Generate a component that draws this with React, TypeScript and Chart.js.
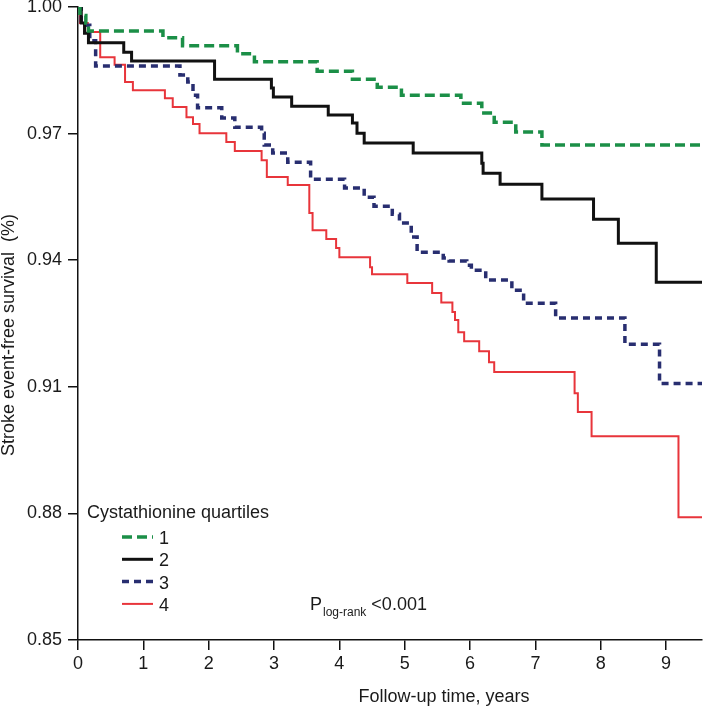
import React, { useEffect, useRef } from "react";
import { Chart, registerables } from "chart.js";

Chart.register(...registerables);

// ---- data (Kaplan-Meier step points: time in years, survival) ----
const Q1_T = [0, 0.03, 0.12, 0.16, 1.30, 1.60, 2.44, 2.70, 3.66, 4.20, 4.58, 4.95, 5.86, 6.18, 6.37, 6.70, 7.10, 9.55];
const Q1_S = [1.000, 0.9980, 0.9962, 0.9943, 0.9927, 0.9908, 0.9889, 0.9870, 0.9848, 0.9829, 0.9810, 0.9791, 0.9772, 0.9749, 0.9727, 0.9704, 0.9673, 0.9673];

const Q2_T = [0, 0.05, 0.10, 0.16, 0.70, 0.82, 2.09, 2.96, 2.99, 3.27, 3.83, 4.20, 4.27, 4.38, 5.13, 6.18, 6.20, 6.46, 7.10, 7.89, 8.27, 8.85, 9.55];
const Q2_S = [1.000, 0.9962, 0.9938, 0.9915, 0.9893, 0.9872, 0.9829, 0.9808, 0.9787, 0.9765, 0.9744, 0.9725, 0.9701, 0.9678, 0.9654, 0.9630, 0.9606, 0.9580, 0.9545, 0.9497, 0.9440, 0.9348, 0.9348];

const Q3_T = [0, 0.05, 0.18, 0.27, 1.56, 1.68, 1.76, 1.83, 2.20, 2.40, 2.81, 2.85, 2.98, 3.21, 3.56, 4.08, 4.38, 4.53, 4.81, 4.92, 5.07, 5.10, 5.19, 5.59, 5.68, 5.95, 6.02, 6.24, 6.64, 6.82, 7.31, 8.37, 8.90, 9.55];
const Q3_S = [1.000, 0.9957, 0.9920, 0.9860, 0.9839, 0.9822, 0.9791, 0.9761, 0.9737, 0.9715, 0.9701, 0.9673, 0.9654, 0.9632, 0.9592, 0.9571, 0.9549, 0.9528, 0.9509, 0.9488, 0.9483, 0.9455, 0.9419, 0.9405, 0.9398, 0.9388, 0.9376, 0.9353, 0.9329, 0.9298, 0.9263, 0.9201, 0.9108, 0.9108];

const Q4_T = [0, 0.03, 0.15, 0.34, 0.56, 0.72, 0.84, 1.33, 1.45, 1.66, 1.76, 1.86, 2.27, 2.40, 2.81, 2.89, 3.21, 3.54, 3.59, 3.80, 3.95, 4.00, 4.47, 4.50, 5.04, 5.42, 5.56, 5.73, 5.77, 5.82, 5.91, 6.14, 6.29, 6.37, 7.60, 7.65, 7.86, 9.19, 9.55];
const Q4_S = [1.000, 0.9962, 0.9941, 0.9881, 0.9863, 0.9822, 0.9803, 0.9784, 0.9763, 0.9739, 0.9723, 0.9701, 0.9680, 0.9659, 0.9637, 0.9597, 0.9578, 0.9512, 0.9471, 0.9450, 0.9429, 0.9407, 0.9383, 0.9367, 0.9346, 0.9322, 0.9300, 0.9277, 0.9258, 0.9229, 0.9208, 0.9184, 0.9158, 0.9135, 0.9085, 0.9040, 0.8983, 0.8791, 0.8791];

const SERIES_LABELS = ["1", "2", "3", "4"];
const X_TICKS = [0, 1, 2, 3, 4, 5, 6, 7, 8, 9];
const Y_TICKS = [0.85, 0.88, 0.91, 0.94, 0.97, 1.0];
const X_MIN = 0;
const X_MAX = 9.55;
const Y_MIN = 0.85;
const Y_MAX = 1.0;

const X_TITLE = "Follow-up time, years";
const Y_TITLE = "Stroke event-free survival  (%)";
const LEGEND_TITLE = "Cystathionine quartiles";
const P_MAIN = "P";
const P_SUB = "log-rank";
const P_VALUE = "<0.001";

const FONT = '"Liberation Sans", Arial, Helvetica, sans-serif';
const TEXT_COLOR = "#1a1a1a";

const STYLES = [
  { color: "#1b8f47", width: 3.5, dash: [10, 5] },
  { color: "#111111", width: 3, dash: [] as number[] },
  { color: "#282e70", width: 3.5, dash: [7, 5] },
  { color: "#e8353b", width: 2, dash: [] as number[] },
];

const SERIES = [
  [Q1_T, Q1_S],
  [Q2_T, Q2_S],
  [Q3_T, Q3_S],
  [Q4_T, Q4_S],
];

const annotPlugin = {
  id: "annot",
  afterDraw(chart: any) {
    const ctx = chart.ctx as CanvasRenderingContext2D;
    const area = chart.chartArea;
    ctx.save();
    ctx.fillStyle = TEXT_COLOR;

    // x axis title
    ctx.font = `18px ${FONT}`;
    ctx.textAlign = "center";
    ctx.textBaseline = "middle";
    ctx.fillText(X_TITLE, area.left + 366, area.bottom + 57);

    // y axis title
    ctx.save();
    ctx.translate(9, area.top + 328);
    ctx.rotate(-Math.PI / 2);
    ctx.fillText(Y_TITLE, 0, 0);
    ctx.restore();

    // legend
    ctx.textAlign = "left";
    ctx.fillText(LEGEND_TITLE, area.left + 9, area.top + 506);
    const ds = chart.data.datasets;
    for (let i = 0; i < ds.length; i++) {
      const yText = area.top + 532 + i * 22.3;
      const yLine = yText - 2;
      ctx.save();
      ctx.strokeStyle = ds[i].borderColor;
      ctx.lineWidth = ds[i].borderWidth;
      ctx.setLineDash(ds[i].borderDash || []);
      ctx.beginPath();
      ctx.moveTo(area.left + 44, yLine);
      ctx.lineTo(area.left + 75, yLine);
      ctx.stroke();
      ctx.restore();
      ctx.fillStyle = TEXT_COLOR;
      ctx.fillText(SERIES_LABELS[i], area.left + 81, yText);
    }

    // p-value annotation
    const px = area.left + 232;
    const py = area.top + 598;
    ctx.font = `18px ${FONT}`;
    ctx.fillText(P_MAIN, px, py);
    const wP = ctx.measureText(P_MAIN).width;
    ctx.font = `12px ${FONT}`;
    ctx.fillText(P_SUB, px + wP + 1, py + 8);
    const wSub = ctx.measureText(P_SUB).width;
    ctx.font = `18px ${FONT}`;
    ctx.fillText(P_VALUE, px + wP + wSub + 6, py);

    ctx.restore();
  },
};

export default function App() {
  const ref = useRef<HTMLCanvasElement | null>(null);

  useEffect(() => {
    if (!ref.current) return;
    const datasets = SERIES.map(([t, s], i) => ({
      label: SERIES_LABELS[i],
      data: t.map((x, j) => ({ x, y: s[j] })),
      borderColor: STYLES[i].color,
      borderWidth: STYLES[i].width,
      borderDash: STYLES[i].dash,
      borderCapStyle: "butt" as const,
      borderJoinStyle: "miter" as const,
      stepped: "before" as const,
      pointRadius: 0,
      fill: false,
    }));

    const tickFont = { family: FONT, size: 18 };

    const chart = new Chart(ref.current, {
      type: "line",
      data: { datasets },
      options: {
        responsive: false,
        animation: false,
        devicePixelRatio: 1,
        layout: { padding: { top: 7, right: 7, left: 0, bottom: 0 } },
        plugins: {
          legend: { display: false },
          tooltip: { enabled: false },
          title: { display: false },
        },
        scales: {
          x: {
            type: "linear",
            min: X_MIN,
            max: X_MAX,
            afterBuildTicks: (scale: any) => {
              scale.ticks = X_TICKS.map((v) => ({ value: v }));
            },
            afterFit: (scale: any) => {
              scale.height = 67;
              scale.paddingLeft = 0;
              scale.paddingRight = 0;
            },
            ticks: {
              font: tickFont,
              color: TEXT_COLOR,
              padding: 3,
              maxRotation: 0,
              autoSkip: false,
              callback: (v: any) => String(v),
            },
            grid: {
              display: true,
              drawOnChartArea: false,
              drawTicks: true,
              tickLength: 10,
              color: "#111",
              lineWidth: 1.5,
            },
            border: { display: true, color: "#111", width: 1.5 },
          },
          y: {
            type: "linear",
            min: Y_MIN,
            max: Y_MAX,
            afterBuildTicks: (scale: any) => {
              scale.ticks = Y_TICKS.map((v) => ({ value: v }));
            },
            afterFit: (scale: any) => {
              scale.width = 78;
              scale.paddingTop = 0;
              scale.paddingBottom = 0;
            },
            ticks: {
              font: tickFont,
              color: TEXT_COLOR,
              padding: 6,
              autoSkip: false,
              callback: (v: any) => Number(v).toFixed(2),
            },
            grid: {
              display: true,
              drawOnChartArea: false,
              drawTicks: true,
              tickLength: 10,
              color: "#111",
              lineWidth: 1.5,
            },
            border: { display: true, color: "#111", width: 1.5 },
          },
        },
      },
      plugins: [annotPlugin],
    });

    return () => chart.destroy();
  }, []);

  return (
    <div style={{ position: "absolute", left: 0, top: 0, width: 709, height: 707, background: "#fff" }}>
      <canvas ref={ref} width={709} height={707} style={{ display: "block" }} />
    </div>
  );
}
